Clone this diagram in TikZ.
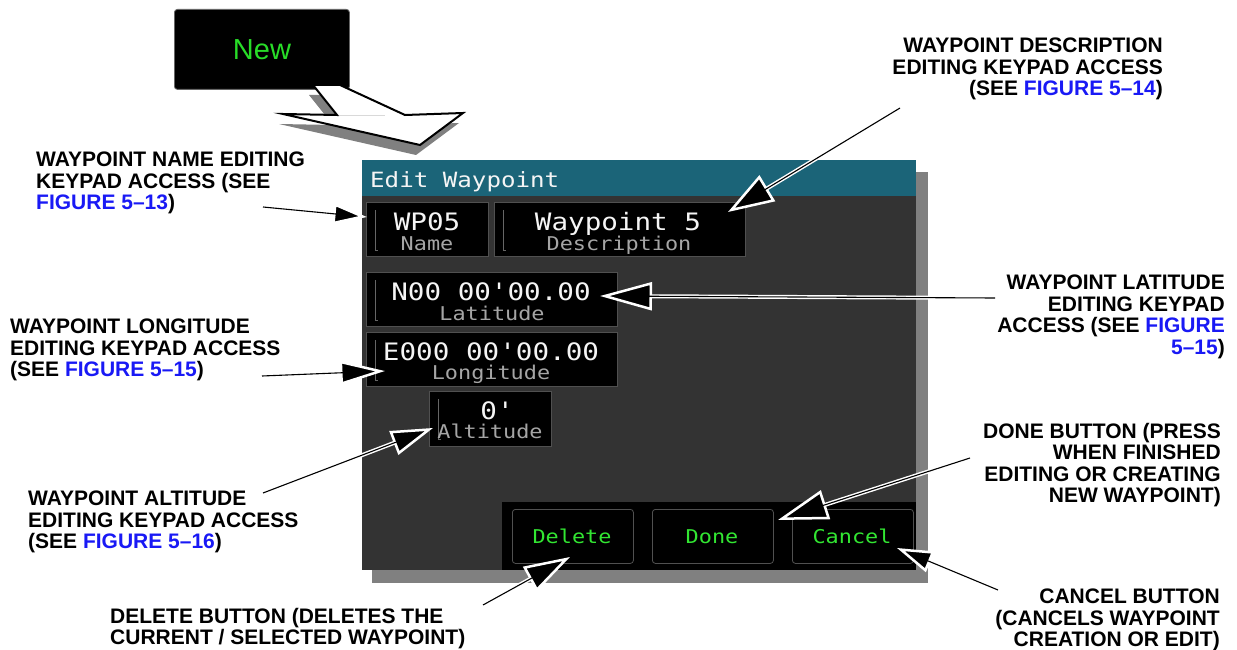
\documentclass[tikz,border=0pt]{standalone}
\usepackage{fontspec}
\setmainfont{Liberation Sans}
\newfontfamily\monof[FakeStretch=1.15]{DejaVu Sans Mono}
\usetikzlibrary{arrows.meta}
\definecolor{tealbar}{RGB}{27,100,120}
\definecolor{panelgray}{RGB}{51,51,51}
\definecolor{shadowgray}{RGB}{128,128,128}
\definecolor{boxline}{RGB}{80,80,80}
\definecolor{valtext}{RGB}{245,245,245}
\definecolor{subtext}{RGB}{165,165,165}
\definecolor{btngreen}{RGB}{50,230,50}
\definecolor{newgreen}{RGB}{40,220,40}
\definecolor{figblue}{RGB}{25,25,245}
\newcommand\fg[1]{\textcolor{figblue}{#1}}
\tikzset{
 lbl/.style={font=\bfseries\fontsize{21}{21.5}\selectfont, inner sep=0pt, text=black},
 fieldbox/.style={draw=boxline, fill=black, line width=0.8, inner sep=0pt, anchor=north west},
 btnbox/.style={draw=boxline, fill=black, line width=0.8, rounded corners=3, inner sep=0pt, anchor=north west},
 val/.style={font=\monof\fontsize{24}{24}\selectfont, text=valtext, inner sep=0pt, anchor=base, text depth=0pt},
 sub/.style={font=\monof\fontsize{19}{19}\selectfont, text=subtext, inner sep=0pt, anchor=base, text height=11pt},
 btntxt/.style={font=\monof\fontsize{19}{19}\selectfont, text=btngreen, inner sep=0pt, anchor=base},
 brk/.style={draw=shadowgray!80!black, line width=0.8},
 cw/.style n args={2}{draw=white, line width=4, -{Triangle[length=#1,width=#2,fill=black,line width=2.5]}},
 cb/.style={draw=black, line width=1.1, shorten >=14},
}
\begin{document}
\begin{tikzpicture}[x=1pt,y=-1pt]
\useasboundingbox (0,0) rectangle (1237,650);
\fill[white] (0,0) rectangle (1237,650);

% New button
\node[btnbox, draw=shadowgray!80!black, minimum width=175, minimum height=80] (newbtn) at (174,9) {};
\node[font=\fontsize{29}{29}\selectfont, text=newgreen, inner sep=0pt, anchor=base] (newtxt) at (262,60) {New};

% big arrow with shadow
\fill[shadowgray] (309,95) -- (336,95) -- (401,125) -- (459,123) -- (416,155) -- (279,124) -- (333,125) -- cycle;
\filldraw[fill=white, draw=black, line width=2, line join=miter] (313,85) -- (340,85) -- (405,115) -- (463,113) -- (420,145) -- (283,114) -- (337,115) -- cycle;
\draw[black!15, line width=0.8] (339,115) -- (385,115);

% panel shadow and panel
\fill[shadowgray] (372,172) rectangle (928,583);
\node[fill=panelgray, inner sep=0pt, anchor=north west, minimum width=554, minimum height=410] (panel) at (362,160) {};
\node[fill=tealbar, inner sep=0pt, anchor=north west, minimum width=554, minimum height=36] (titlebar) at (362,160) {};
\node[font=\monof\fontsize{21}{21}\selectfont, text=valtext, inner sep=0pt, anchor=base west] (title) at (370,187) {Edit Waypoint};
\node[fill=black, inner sep=0pt, anchor=north west, minimum width=414, minimum height=68] (btnbar) at (502,502) {};

% fields
\node[fieldbox, minimum width=122, minimum height=54] (nameBox) at (366,202) {};
\draw[brk] (375,210) -- (375,250) -- (378,250);
\node[val] (nameVal) at (427,230) {WP05};
\node[sub] (nameSub) at (427,250) {Name};

\node[fieldbox, minimum width=251, minimum height=54] (descBox) at (494,202) {};
\draw[brk] (503,210) -- (503,250) -- (506,250);
\node[val] (descVal) at (618,230) {Waypoint 5};
\node[sub] (descSub) at (619,250) {Description};

\node[fieldbox, minimum width=251, minimum height=54] (latBox) at (366,272) {};
\draw[brk] (375,280) -- (375,320) -- (378,320);
\node[val] (latVal) at (491,300) {N00 00'00.00};
\node[sub] (latSub) at (492,320) {Latitude};

\node[fieldbox, minimum width=251, minimum height=54] (lonBox) at (366,332) {};
\draw[brk] (375,340) -- (375,380) -- (378,380);
\node[val] (lonVal) at (491,360) {E000 00'00.00};
\node[sub] (lonSub) at (491,379) {Longitude};

\node[fieldbox, minimum width=122, minimum height=55] (altBox) at (429,391) {};
\draw[brk] (438,399) -- (438,439) -- (441,439);
\node[val] (altVal) at (497,419) {0'};
\node[sub] (altSub) at (490,438) {Altitude};

% buttons
\node[btnbox, minimum width=121, minimum height=54] (delBtn) at (512,509) {};
\node[btntxt] (delTxt) at (572,543) {Delete};
\node[btnbox, minimum width=121, minimum height=54] (doneBtn) at (652,509) {};
\node[btntxt] (doneTxt) at (712,543) {Done};
\node[btnbox, minimum width=121, minimum height=54] (cancelBtn) at (792,509) {};
\node[btntxt] (cancelTxt) at (852,543) {Cancel};

% labels
\node[lbl, align=left, anchor=north west] (l1) at (36,152) {WAYPOINT NAME EDITING\\KEYPAD ACCESS (SEE\\\fg{FIGURE 5–13})};
\node[lbl, align=right, anchor=north east] (l2) at (1163,38) {WAYPOINT DESCRIPTION\\EDITING KEYPAD ACCESS\\(SEE \fg{FIGURE 5–14})};
\node[lbl, align=right, anchor=north east] (l3) at (1225,275) {WAYPOINT LATITUDE\\EDITING KEYPAD\\ACCESS (SEE \fg{FIGURE}\\\fg{5–15})};
\node[lbl, align=left, anchor=north west] (l4) at (10,319) {WAYPOINT LONGITUDE\\EDITING KEYPAD ACCESS\\(SEE \fg{FIGURE 5–15})};
\node[lbl, align=left, anchor=north west] (l5) at (28,491) {WAYPOINT ALTITUDE\\EDITING KEYPAD ACCESS\\(SEE \fg{FIGURE 5–16})};
\node[lbl, align=right, anchor=north east] (l6) at (1221,423) {DONE BUTTON (PRESS\\WHEN FINISHED\\EDITING OR CREATING\\NEW WAYPOINT)};
\node[lbl, align=right, anchor=north east] (l7) at (1220,589) {CANCEL BUTTON\\(CANCELS WAYPOINT\\CREATION OR EDIT)};
\node[lbl, align=left, anchor=north west] (l8) at (110,608) {DELETE BUTTON (DELETES THE\\CURRENT / SELECTED WAYPOINT)};

% connector coordinates
\coordinate (s1) at (263,207); \coordinate (t1) at (367,217);
\coordinate (s2) at (900,108); \coordinate (t2) at (728,212);
\coordinate (s3) at (995,298); \coordinate (t3) at (600,296);
\coordinate (s4) at (262,376); \coordinate (t4) at (385,371);
\coordinate (s5) at (263,493); \coordinate (t5) at (433,428);
\coordinate (s6) at (970,458); \coordinate (t6) at (778,520);
\coordinate (s7) at (998,590); \coordinate (t7) at (897,548);
\coordinate (s8) at (483,605); \coordinate (t8) at (570,557);

% connectors: white halo + black head, then black line
\draw[cw={34}{21}] (s1) -- (t1);  \draw[cb] (s1) -- (t1);
\draw[cw={46}{30}] (s2) -- (t2);  \draw[cb] (s2) -- (t2);
\draw[cw={52}{28}] (s3) -- (t3);  \draw[cb] (s3) -- (t3);
\draw[cw={45}{24}] (s4) -- (t4);  \draw[cb] (s4) -- (t4);
\draw[cw={42}{25}] (s5) -- (t5);  \draw[cb] (s5) -- (t5);
\draw[cw={50}{30}] (s6) -- (t6);  \draw[cb] (s6) -- (t6);
\draw[cw={36}{22}] (s7) -- (t7);  \draw[cb] (s7) -- (t7);
\draw[cw={46}{28}] (s8) -- (t8);  \draw[cb] (s8) -- (t8);
\end{tikzpicture}
\end{document}
